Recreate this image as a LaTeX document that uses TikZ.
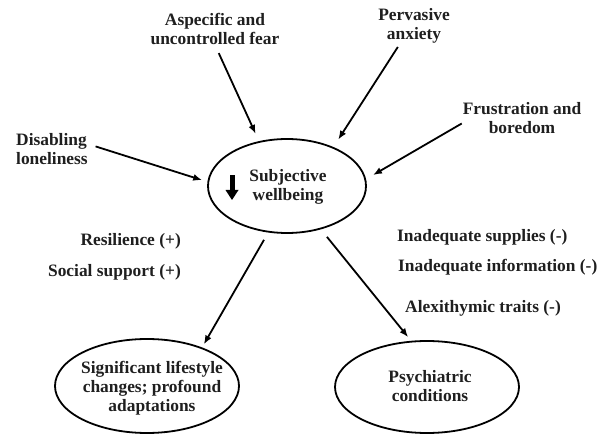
\documentclass[tikz,border=0pt]{standalone}
\usepackage{fontspec}
\setmainfont{Liberation Serif}
\usetikzlibrary{arrows.meta,shapes.geometric}
\begin{document}
\begin{tikzpicture}[x=1pt,y=-1pt,
  lbl/.style={font=\fontsize{17.4}{19}\selectfont\bfseries, inner sep=0pt, text=black!88},
  oval/.style={draw, line width=1.8pt, ellipse, inner sep=0pt},
  arr/.style={line width=1.8pt, -{Latex[length=9pt,width=7pt]}},
]
\useasboundingbox (0,0) rectangle (597,435);
% ellipses
\node[oval, minimum width=158pt, minimum height=94pt] (main) at (287,186) {};
\node[oval, minimum width=184pt, minimum height=94pt] (life) at (147,386) {};
\node[oval, minimum width=184pt, minimum height=92pt] (psy) at (427,387) {};
% texts inside ellipses
\node[lbl, align=center] (swb) at (288,187) {Subjective\\wellbeing};
\node[lbl, align=center] (lifetxt) at (152,388) {Significant lifestyle\\changes; profound\\adaptations};
\node[lbl, align=center] (psytxt) at (430,386) {Psychiatric\\conditions};
% down arrow inside main ellipse
\fill[black] (229.5,175) rectangle (234.5,191);
\fill[black] (225.5,190) -- (238.5,190) -- (232,200) -- cycle;
% outer labels
\node[lbl, align=center] (fear) at (215,29) {Aspecific and\\uncontrolled fear};
\node[lbl, align=center] (anx) at (414,26) {Pervasive\\anxiety};
\node[lbl, align=center] (frus) at (522,118) {Frustration and\\boredom};
\node[lbl, align=left, anchor=west] (lonely) at (16,149) {Disabling\\loneliness};
\node[lbl, anchor=base east] (res) at (181,245.5) {Resilience (+)};
\node[lbl, anchor=base east] (soc) at (181,276.5) {Social support (+)};
\node[lbl, anchor=base west] (sup) at (397,241.5) {Inadequate supplies (-)};
\node[lbl, anchor=base west] (info) at (398,271.5) {Inadequate information (-)};
\node[lbl, anchor=base west] (alex) at (405,312.5) {Alexithymic traits (-)};
% arrows
\draw[arr, shorten <=9pt, shorten >=8pt] (fear.south) -- (main.122);
\draw[arr, shorten <=8pt, shorten >=5.5pt] ([yshift=5pt]lonely.east) -- (main.177);
\draw[arr, shorten <=4pt, shorten >=8.8pt] ([xshift=-14pt]anx.south) -- (main.40.5);
\draw[arr, shorten <=1pt, shorten >=8pt] ([yshift=-5pt]frus.west) -- (main.5);
\draw[arr, shorten <=8.4pt, shorten >=3.5pt] (main.248.7) -- (life.35);
\draw[arr, shorten <=9.6pt, shorten >=4.6pt] (main.308.7) -- (psy.109.5);
\end{tikzpicture}
\end{document}
